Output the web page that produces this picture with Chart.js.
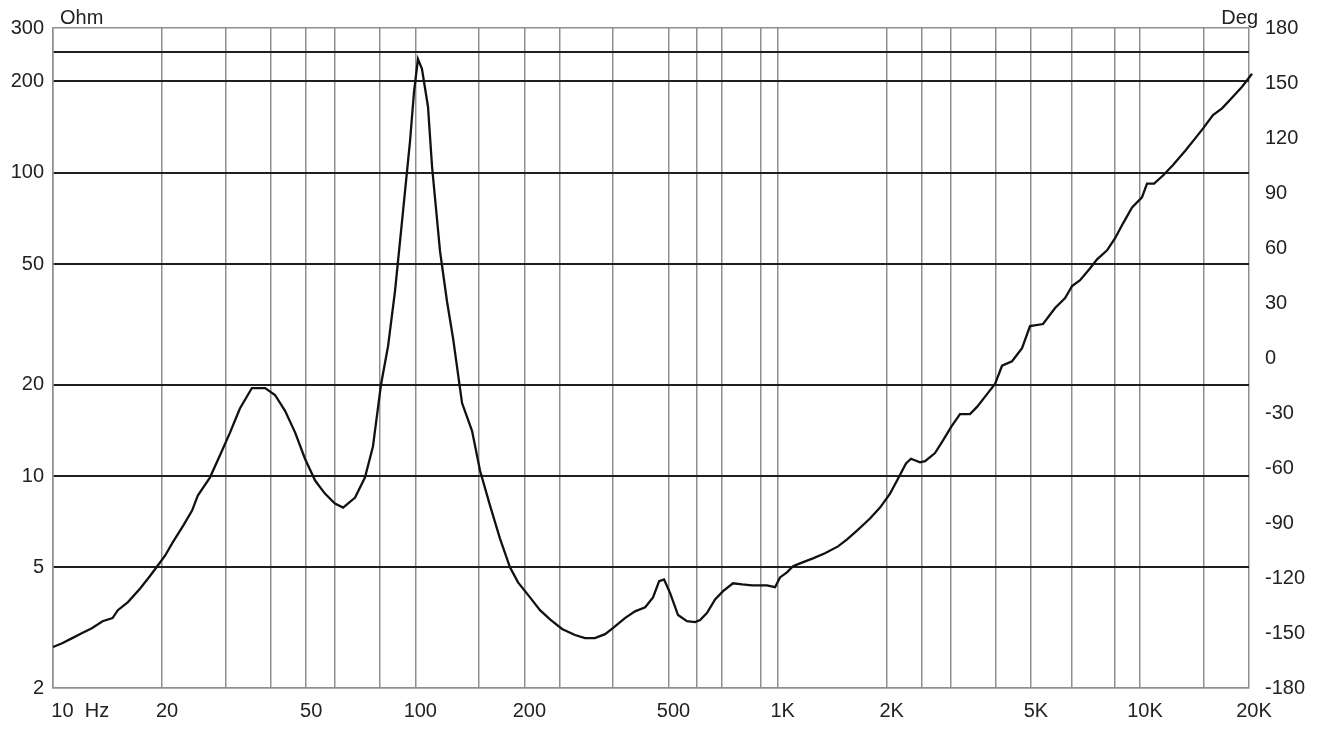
<!DOCTYPE html>
<html>
<head>
<meta charset="utf-8">
<script src="https://cdn.jsdelivr.net/npm/chart.js@4/dist/chart.umd.min.js"></script>
<style>
	html, body { margin: 0; padding: 0; background: #fff; }
	#wrap { width: 1329px; height: 731px; position: relative; }
</style>
</head>
<body>
<div id="wrap"><canvas id="impedance"></canvas></div>
<script>
const colCurve = "#111111";
const colMajor = "#1e1e1e";
const colMinor = "#8f8f8f";
const fontFamily = "'Liberation Sans', Arial, sans-serif";

// impedance curve
const freqs = [
	10, 10.6, 11.3, 12.0, 12.8, 13.7, 14.6, 15.1, 16.1, 17.4,
	18.5, 19.4, 20.4, 21.4, 22.9, 24.2, 25.1, 27.1, 28.9, 30.8,
	32.8, 35.4, 38.5, 41.0, 43.7, 46.6, 49.6, 52.9, 56.3, 60.0,
	63.2, 68.2, 72.6, 76.4, 80.4, 84.1, 87.9, 91.9, 96.7, 99.2,
	101.7, 104.3, 108.4, 111.2, 117, 122.3, 127.1, 134.6, 143.4, 150.9,
	160.8, 171.3, 182.5, 192.1, 207.3, 220.9, 235.4, 254.1, 275.9, 294,
	313, 334, 351, 379, 404, 431, 453, 471, 486, 505,
	531, 562, 592, 611, 638, 672, 707, 753, 798, 850,
	894, 935, 984, 1015, 1061, 1103, 1153, 1252, 1351, 1468,
	1555, 1656, 1799, 1917, 2043, 2149, 2261, 2334, 2472, 2553,
	2719, 2861, 3010, 3187, 3396, 3551, 3808, 3981, 4163, 4436,
	4727, 4973, 5401, 5832, 6215, 6497, 6836, 7285, 7616, 8115,
	8539, 8984, 9511, 10130, 10460, 10940, 11580, 12340, 13320, 14370,
	14940, 15910, 16850, 17740, 19140, 20390,
];
const ohms = [
	2.73, 2.81, 2.92, 3.03, 3.15, 3.32, 3.40, 3.61, 3.84, 4.26,
	4.67, 5.04, 5.47, 6.04, 6.87, 7.69, 8.62, 9.88, 11.7, 13.9,
	16.7, 19.5, 19.5, 18.5, 16.4, 13.9, 11.4, 9.66, 8.75, 8.11,
	7.87, 8.49, 9.88, 12.5, 20.0, 26.8, 40.7, 69.1, 127, 185,
	237, 220, 165, 105, 55.1, 37.7, 28.5, 17.4, 14.1, 10.4,
	7.99, 6.22, 5.00, 4.46, 3.98, 3.61, 3.37, 3.13, 2.99, 2.92,
	2.92, 3.01, 3.15, 3.40, 3.58, 3.69, 3.98, 4.50, 4.56, 4.11,
	3.48, 3.32, 3.30, 3.35, 3.53, 3.92, 4.17, 4.43, 4.39, 4.36,
	4.36, 4.36, 4.30, 4.63, 4.81, 5.04, 5.15, 5.35, 5.56, 5.86,
	6.18, 6.61, 7.24, 7.87, 8.75, 9.80, 11.0, 11.4, 11.1, 11.2,
	11.9, 13.1, 14.5, 16.0, 16.0, 16.9, 18.8, 20.1, 23.1, 23.9,
	26.4, 31.2, 31.7, 35.8, 38.6, 42.3, 44.2, 48.4, 51.8, 55.5,
	60.8, 68.1, 76.8, 82.9, 92.1, 92.1, 97.9, 106, 118, 132,
	140, 155, 163, 174, 192, 212,
];

// x grid lines (Hz) and the ones that carry a label
const freqGrid = [10, 20, 30, 40, 50, 60, 80, 100, 150, 200, 250, 350, 500, 600, 700, 900,
	1000, 2000, 2500, 3000, 4000, 5000, 6500, 8500, 10000, 15000, 20000];
const freqLabels = {
	10: "        10  Hz", 20: "20", 50: "50", 100: "100", 200: "200", 500: "500",
	1000: "1K", 2000: "2K", 5000: "5K", 10000: "10K", 20000: "20K",
};

// left axis (Ohm) and right axis (Deg)
const ohmGrid = [2, 5, 10, 20, 50, 100, 200, 250, 300];
const ohmLabels = { 2: "2", 5: "5", 10: "10", 20: "20", 50: "50", 100: "100", 200: "200", 300: "300" };
const degMin = -180;
const degMax = 180;
const degStep = 30;

const tickFont = { family: fontFamily, size: 20 };

//#region unit captions above the axes
const unitCaptions = {
	id: "unitCaptions",
	afterDraw(chart) {
		const { ctx, chartArea } = chart;
		ctx.save();
		ctx.fillStyle = "#222";
		ctx.font = "20px " + fontFamily;
		ctx.textBaseline = "alphabetic";
		ctx.textAlign = "left";
		ctx.fillText("Ohm", chartArea.left + 7, chartArea.top - 4);
		ctx.textAlign = "right";
		ctx.fillText("Deg", chartArea.right + 9, chartArea.top - 4);
		ctx.restore();
	},
};
//#endregion

new Chart(document.getElementById("impedance"), {
	type: "line",
	data: {
		datasets: [
			{
				label: "Impedance",
				data: freqs.map((f, i) => ({ x: f, y: ohms[i] })),
				borderColor: colCurve,
				borderWidth: 2.3,
				pointRadius: 0,
				tension: 0,
				clip: false,
				yAxisID: "y",
			},
		],
	},
	plugins: [unitCaptions],
	options: {
		responsive: true,
		maintainAspectRatio: false,
		animation: false,
		layout: { padding: { top: 26, left: 0, right: 0, bottom: 0 } },
		plugins: {
			legend: { display: false },
			tooltip: { enabled: false },
		},
		scales: {
			x: {
				type: "logarithmic",
				min: 10,
				max: 20000,
				afterBuildTicks: (scale) => {
					scale.ticks = freqGrid.map((v) => ({ value: v }));
				},
				afterFit: (scale) => {
					scale.height = 43;
				},
				ticks: {
					autoSkip: false,
					maxRotation: 0,
					padding: 0,
					labelOffset: 5,
					color: "#222",
					font: { family: fontFamily, size: 20, lineHeight: 2.34 },
					callback: (v) => freqLabels[v] || "",
				},
				grid: {
					color: colMinor,
					lineWidth: 1.5,
					drawTicks: false,
				},
				border: { color: colMinor, width: 1.5 },
			},
			y: {
				type: "logarithmic",
				position: "left",
				min: 2,
				max: 300,
				afterBuildTicks: (scale) => {
					scale.ticks = ohmGrid.map((v) => ({ value: v }));
				},
				afterFit: (scale) => {
					scale.width = 53;
				},
				ticks: {
					autoSkip: false,
					padding: 9,
					color: "#222",
					font: tickFont,
					callback: (v) => ohmLabels[v] || "",
				},
				grid: {
					color: (c) => (c.tick && (c.tick.value === 2 || c.tick.value === 300) ? colMinor : colMajor),
					lineWidth: (c) => (c.tick && (c.tick.value === 2 || c.tick.value === 300) ? 1.5 : 2),
					drawTicks: false,
				},
				border: { color: colMinor, width: 1.5 },
			},
			deg: {
				type: "linear",
				position: "right",
				min: degMin,
				max: degMax,
				afterFit: (scale) => {
					scale.width = 80;
				},
				ticks: {
					stepSize: degStep,
					padding: 16,
					color: "#222",
					font: tickFont,
				},
				grid: { display: false, drawTicks: false },
				border: { display: false },
			},
		},
	},
});
</script>
</body>
</html>
